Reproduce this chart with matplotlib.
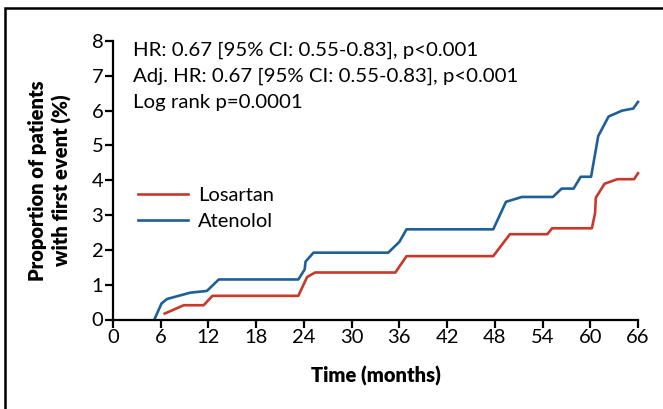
import matplotlib
matplotlib.use("Agg")
import matplotlib.pyplot as plt
from matplotlib.patches import Rectangle

# valores (meses, % de pacientes)
ateno_t = [5.2, 6.1, 6.8, 9.7, 11.8, 13.3, 23.3, 24.1, 24.2, 25.2, 34.6, 36.0, 36.9,
           47.8, 49.4, 51.4, 55.3, 56.4, 57.9, 58.8, 60.1, 61.0, 62.3, 64.0, 65.4, 66.0]
ateno_v = [0.0, 0.46, 0.59, 0.77, 0.82, 1.15, 1.15, 1.44, 1.66, 1.92, 1.92, 2.23, 2.59,
           2.59, 3.38, 3.52, 3.52, 3.76, 3.76, 4.10, 4.10, 5.27, 5.83, 6.00, 6.06, 6.25]

losar_t = [6.5, 8.9, 11.4, 12.5, 23.3, 24.4, 25.4, 35.5, 36.9, 47.8, 49.9, 54.6, 55.2,
           60.2, 60.6, 60.7, 61.8, 63.4, 65.5, 66.0]
losar_v = [0.17, 0.41, 0.41, 0.68, 0.68, 1.22, 1.35, 1.35, 1.82, 1.82, 2.45, 2.45, 2.62,
           2.62, 3.05, 3.50, 3.90, 4.03, 4.03, 4.20]

x_ticks = list(range(0, 67, 6))
y_ticks = list(range(0, 9))
stats_lines = ["HR: 0.67 [95% CI: 0.55-0.83], p<0.001",
               "Adj. HR: 0.67 [95% CI: 0.55-0.83], p<0.001",
               "Log rank p=0.0001"]

plt.rcParams["font.family"] = ["Lato", "DejaVu Sans"]

fig = plt.figure(figsize=(6.63, 4.09), dpi=100)
ax = fig.add_axes([113/663, 1-319.5/409, 525/663, 278.5/409])

red = "#C8392B"
blue = "#1E5F99"
ax.plot(losar_t, losar_v, color=red, lw=1.9, label="Losartan", clip_on=False)
ax.plot(ateno_t, ateno_v, color=blue, lw=1.9, label="Atenolol", clip_on=False)

ax.set_xlim(0, 66)
ax.set_ylim(0, 8)
ax.set_xticks(x_ticks)
ax.set_yticks(y_ticks)
for s in ["top", "right"]:
    ax.spines[s].set_visible(False)
for s in ["left", "bottom"]:
    ax.spines[s].set_linewidth(1.6)
ax.tick_params(direction="out", length=6, width=1.6, labelsize=14.5, pad=1)

ax.set_xlabel("Time (months)", fontsize=14.5, fontweight="heavy", labelpad=14)
ax.set_ylabel("Proportion of patients\nwith first event (%)", fontsize=14.5,
              fontweight="heavy", labelpad=14, linespacing=1.3)

for i, line in enumerate(stats_lines):
    ax.text(0.038, 0.968 - i*0.094, line, transform=ax.transAxes,
            fontsize=14.7, va="center", ha="left")

ax.legend(loc="center left", bbox_to_anchor=(0.013, 0.4), frameon=False,
          fontsize=14.5, handlelength=2.5, handletextpad=0.5, labelspacing=0.45)

# moldura da figura (só topo e esquerda aparecem)
fig.patches.append(Rectangle((5/663, -0.2), 1.2, 0.2 + 1 - 8/409,
                             transform=fig.transFigure, fill=False,
                             lw=1.8, edgecolor="black"))

plt.savefig("out.png", dpi=100)
plt.close()
